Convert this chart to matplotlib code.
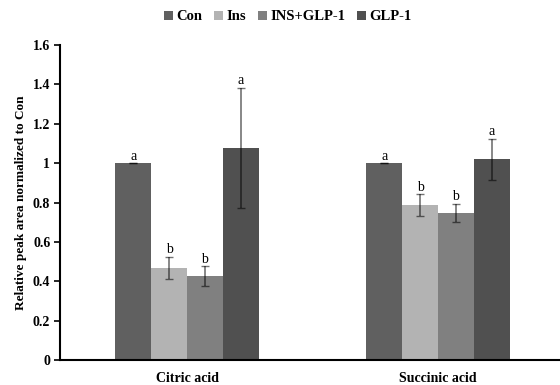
import numpy as np
import matplotlib.pyplot as plt

categories = ['Citric acid', 'Succinic acid']
groups = ['Con', 'Ins', 'INS+GLP-1', 'GLP-1']
values = {
    'Con': [1.0, 1.0],
    'Ins': [0.468, 0.787],
    'INS+GLP-1': [0.426, 0.748],
    'GLP-1': [1.078, 1.019],
}
errors = {
    'Con': [0.0, 0.0],
    'Ins': [0.057, 0.055],
    'INS+GLP-1': [0.05, 0.046],
    'GLP-1': [0.305, 0.106],
}
letters = {
    'Con': ['a', 'a'],
    'Ins': ['b', 'b'],
    'INS+GLP-1': ['b', 'b'],
    'GLP-1': ['a', 'a'],
}
colors = ['#606060', '#b3b3b3', '#808080', '#505050']

plt.rcParams['font.family'] = ['Liberation Serif', 'DejaVu Serif']

fig = plt.figure(figsize=(5.6, 3.85), dpi=100)
ax = fig.add_axes([60/560, 25/385, 500/560, 315/385])

x = np.arange(len(categories))
w = 0.143
for i, g in enumerate(groups):
    pos = x + (i - 1.5) * w
    ax.bar(pos, values[g], w, color=colors[i], label=g, edgecolor='none', zorder=2)
    ax.errorbar(pos, values[g], yerr=errors[g], fmt='none', ecolor='black',
                alpha=0.55, elinewidth=1.2, capsize=3, capthick=1, zorder=3)
    for j in range(len(categories)):
        top = values[g][j] + errors[g][j]
        ax.text(pos[j], top + 0.003, letters[g][j], ha='center', va='bottom',
                fontsize=10, zorder=4)

ax.set_xlim(-0.506, 1.486)
ax.set_ylim(0, 1.6)
ax.set_yticks(np.arange(0, 1.61, 0.2))
ax.set_yticklabels(['0', '0.2', '0.4', '0.6', '0.8', '1', '1.2', '1.4', '1.6'],
                   fontweight='bold', fontsize=10)
ax.set_xticks(x)
ax.set_xticklabels(categories, fontweight='bold', fontsize=10)
ax.tick_params(axis='x', length=0, pad=9)
ax.tick_params(axis='y', length=4, width=1.2, direction='out', pad=3)
ax.spines['top'].set_visible(False)
ax.spines['right'].set_visible(False)
ax.spines['left'].set_linewidth(1.5)
ax.spines['bottom'].set_linewidth(1.5)
ax.set_ylabel('Relative peak area normalized to Con', fontweight='bold', fontsize=9.5)

ax.legend(loc='center', bbox_to_anchor=(0.456, 1.089), ncol=4, frameon=False,
          prop={'weight': 'bold', 'size': 10.5}, handlelength=0.6, handleheight=0.6,
          handletextpad=0.25, columnspacing=0.8)

fig.savefig('out.png', dpi=100)
